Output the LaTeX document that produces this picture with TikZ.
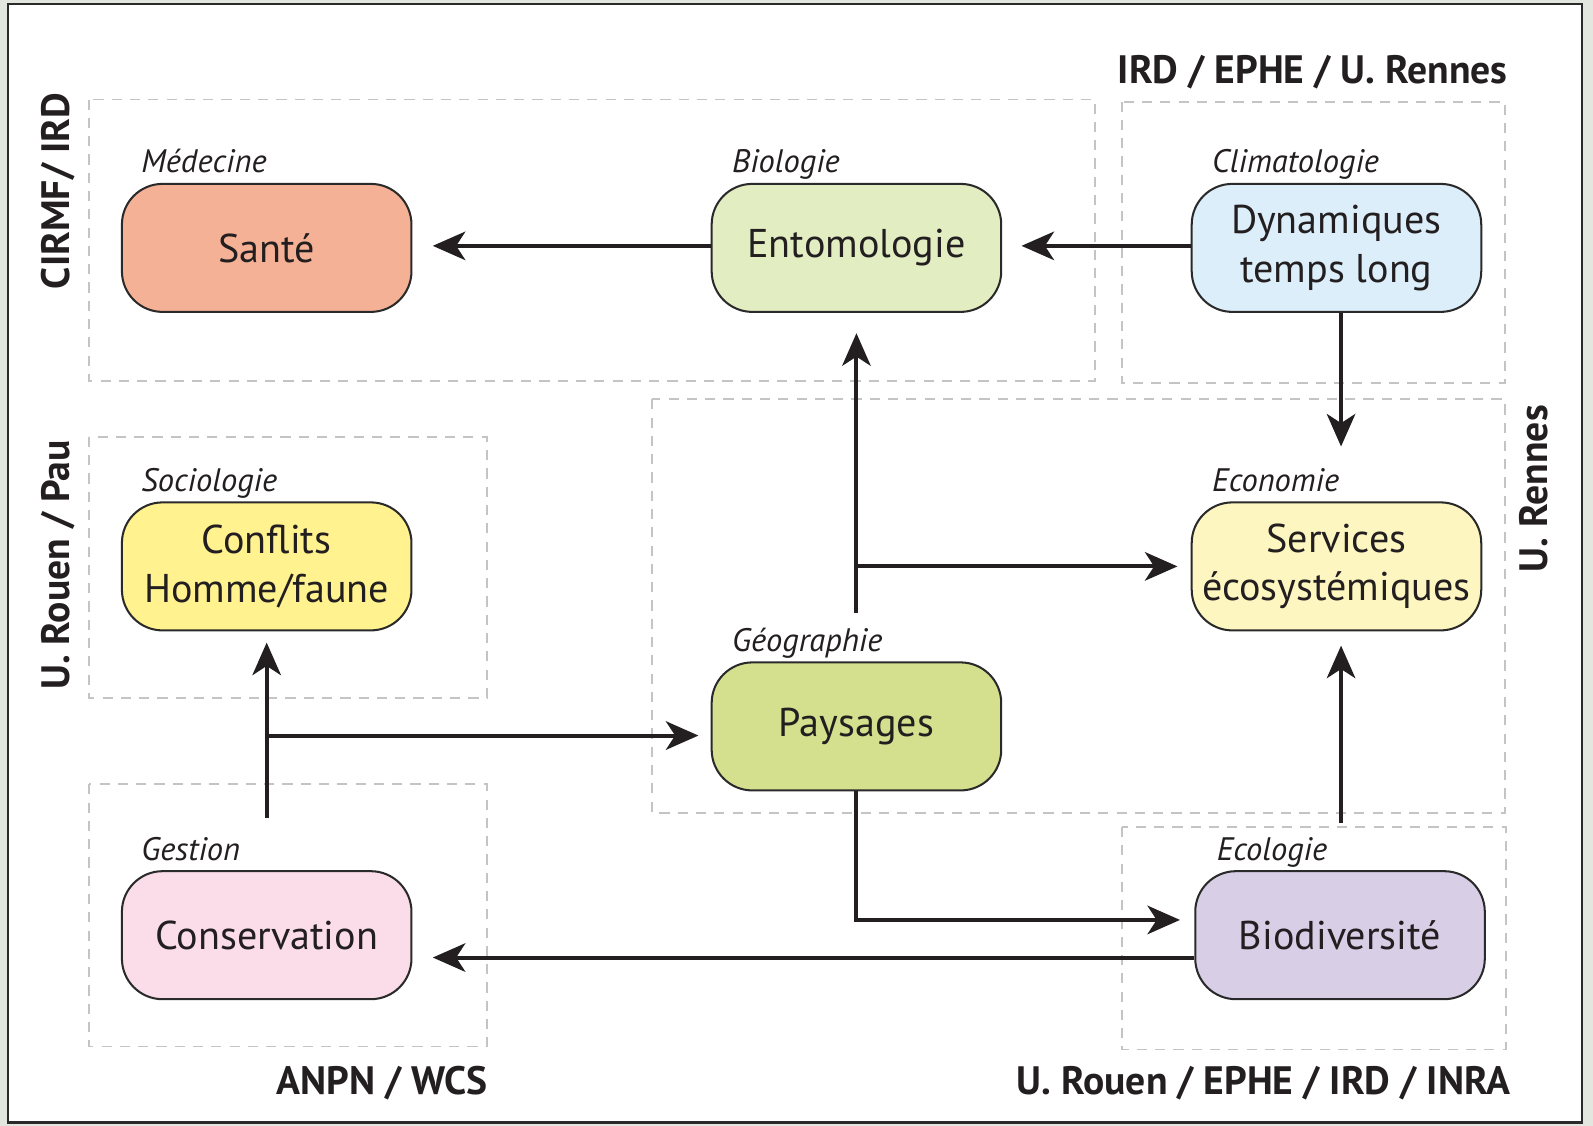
\documentclass[tikz,border=0pt]{standalone}
\usepackage{fontspec}
\setmainfont{PT Sans}
\usetikzlibrary{arrows.meta}
\definecolor{txt}{HTML}{231F20}
\definecolor{boxline}{HTML}{2B2A2A}
\definecolor{dashgray}{HTML}{C4C4C4}
\definecolor{outerbg}{HTML}{E3E6DF}
\definecolor{framec}{HTML}{2A2A2A}
\definecolor{cSante}{HTML}{F4B196}
\definecolor{cEnto}{HTML}{E2EDC2}
\definecolor{cDyn}{HTML}{DCEEFA}
\definecolor{cConf}{HTML}{FFF28F}
\definecolor{cServ}{HTML}{FDF6C0}
\definecolor{cPays}{HTML}{D5E08E}
\definecolor{cCons}{HTML}{FADDE8}
\definecolor{cBio}{HTML}{D8CEE6}
\begin{document}
\begin{tikzpicture}[x=1pt,y=-1pt,
  box/.style={draw=boxline, line width=2pt, rounded corners=40pt, minimum width=285pt, minimum height=126pt, align=center, inner sep=0pt, font=\fontsize{39.5}{48}\selectfont, text=txt},
  cat/.style={anchor=base west, inner sep=0pt, font=\fontsize{32}{34}\selectfont\itshape, text=txt},
  inst/.style={inner sep=0pt, font=\fontsize{39}{42}\selectfont\bfseries, text=txt},
  grp/.style={draw=dashgray, line width=1.8pt, dash pattern=on 10pt off 8pt},
  arr/.style={line width=4pt, draw=txt, -{Stealth[length=32pt,width=28pt,inset=9pt]}}
]
\useasboundingbox (0,0) rectangle (1568,1108);
\fill[outerbg] (0,0) rectangle (1568,1108);
\fill[white] (8,4) rectangle (1557,1105);
\draw[framec, line width=2.5pt] (8,4) rectangle (1557,1105);

% dashed group boxes
\draw[grp] (88,98) rectangle (1078,375);
\draw[grp] (1104,100) rectangle (1481,377);
\draw[grp] (88,430) rectangle (479,687);
\draw[grp] (642,393) rectangle (1481,800);
\draw[grp] (88,772) rectangle (479,1030);
\draw[grp] (1104,814) rectangle (1482,1033);

% nodes
\node[box, fill=cSante] (sante) at (262.5,244) {Santé};
\node[box, fill=cEnto] (ento) at (843,244) {Entomologie};
\node[box, fill=cDyn] (dyn) at (1315.5,244) {Dynamiques\\temps long};
\node[box, fill=cConf] (conf) at (262.5,557.5) {Conflits\\Homme/faune};
\node[box, fill=cServ] (serv) at (1315.5,557.5) {Services\\écosystémiques};
\node[box, fill=cPays] (pays) at (843,715) {Paysages};
\node[box, fill=cCons] (cons) at (262.5,920.5) {Conservation};
\node[box, fill=cBio] (bio) at (1319,920.5) {Biodiversité};

% discipline labels
\node[cat] (lsante) at ([xshift=20pt,yshift=10pt]sante.north west) {Médecine};
\node[cat] (lento) at ([xshift=21pt,yshift=10pt]ento.north west) {Biologie};
\node[cat] (ldyn) at ([xshift=21pt,yshift=10pt]dyn.north west) {Climatologie};
\node[cat] (lconf) at ([xshift=20pt,yshift=10pt]conf.north west) {Sociologie};
\node[cat] (lserv) at ([xshift=21pt,yshift=10pt]serv.north west) {Economie};
\node[cat] (lpays) at ([xshift=21pt,yshift=10pt]pays.north west) {Géographie};
\node[cat] (lcons) at ([xshift=20pt,yshift=10pt]cons.north west) {Gestion};
\node[cat] (lbio) at ([xshift=22pt,yshift=10pt]bio.north west) {Ecologie};

% institution labels
\node[inst, anchor=base east] (i1) at (1484,82) {IRD / EPHE / U. Rennes};
\node[inst, rotate=90] (i2) at (57,188) {CIRMF/ IRD};
\node[inst, rotate=90] (i3) at (57,556) {U. Rouen / Pau};
\node[inst, rotate=90] (i4) at (1510,481) {U. Rennes};
\node[inst, anchor=base east] (i5) at (480,1077) {ANPN / WCS};
\node[inst, anchor=base east] (i6) at (1487,1077) {U. Rouen / EPHE / IRD / INRA};

% connectors
\coordinate (pstart) at (843,603);
\coordinate (pj) at (843,557.5);
\coordinate (bstart) at (1320,810);
\coordinate (cstart) at (262.5,805);
\coordinate (cj) at (262.5,724);

\draw[arr, shorten >=20pt] ([yshift=2pt]ento.west) -- ([yshift=2pt]sante.east);
\draw[arr, shorten >=19pt] ([yshift=2pt]dyn.west) -- ([yshift=2pt]ento.east);
\draw[arr, shorten >=54pt] ([xshift=4.5pt]dyn.south) -- ([xshift=4.5pt]serv.north);
\draw[arr, shorten >=20pt] (pstart) -- (ento.south);
\draw[arr, shorten >=13pt] (pj) -- (serv.west);
\draw[arr, shorten >=14pt] (pays.south) |- ([yshift=15pt]bio.west);
\draw[arr, shorten >=20pt] ([yshift=-22pt]bio.west) -- ([yshift=-22pt]cons.east);
\draw[arr, shorten >=14pt] (bstart) -- (bstart |- serv.south);
\draw[arr, shorten >=11pt] (cstart) -- (conf.south);
\draw[arr, shorten >=12pt] (cj) -- (cj -| pays.west);
\end{tikzpicture}
\end{document}
